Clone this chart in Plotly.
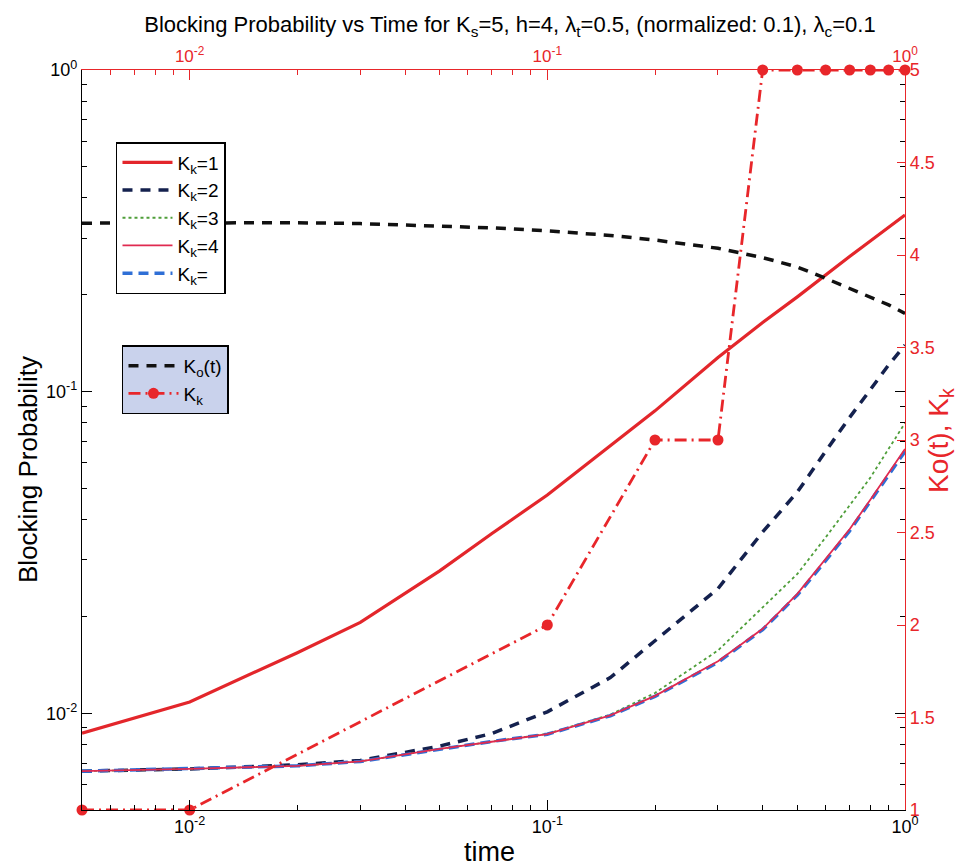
import plotly.graph_objects as go

# Common time grid for the blocking-probability curves
time = [0.005, 0.01, 0.02, 0.03, 0.05, 0.07, 0.1, 0.15, 0.2, 0.3,
        0.4, 0.5, 0.6, 0.7, 0.8, 0.9, 1.0]

pb_k1 = [0.00867, 0.01084, 0.01542, 0.01915, 0.0277, 0.0362, 0.0477, 0.0680,
         0.0871, 0.1277, 0.164, 0.197, 0.231, 0.263, 0.294, 0.325, 0.354]
pb_k2 = [0.0066, 0.00671, 0.00691, 0.00713, 0.0079, 0.00865, 0.0101, 0.0129,
         0.0168, 0.0244, 0.0366, 0.0487, 0.0652, 0.0831, 0.1014, 0.121, 0.1396]
pb_k3 = [0.0066, 0.00671, 0.00686, 0.00708, 0.00774, 0.00817, 0.00863, 0.0099,
         0.01156, 0.01567, 0.0214, 0.0271, 0.0352, 0.0442, 0.054, 0.0664, 0.0798]
pb_k4 = [0.0066, 0.00671, 0.00686, 0.00708, 0.00774, 0.00817, 0.00861, 0.00984,
         0.01132, 0.0145, 0.0183, 0.0235, 0.0301, 0.0373, 0.0461, 0.0559, 0.0663]
pb_kx = [0.0066, 0.00671, 0.00686, 0.00708, 0.00774, 0.00817, 0.00860, 0.00982,
         0.01128, 0.0144, 0.0182, 0.0233, 0.0298, 0.0369, 0.0456, 0.0552, 0.0652]
ko_t = [0.334, 0.335, 0.335, 0.333, 0.327, 0.323, 0.316, 0.306, 0.296, 0.279,
        0.261, 0.244, 0.225, 0.209, 0.196, 0.186, 0.175]

# Chosen K_k over time (right axis)
kk_time = [0.005, 0.01, 0.1, 0.2, 0.3, 0.4, 0.5, 0.6, 0.7, 0.8, 0.9, 1.0]
kk_vals = [1, 1, 2, 3, 3, 5, 5, 5, 5, 5, 5, 5]

log_major = [0.01, 0.1, 1]
log_major_text = ["10<sup>-2</sup>", "10<sup>-1</sup>", "10<sup>0</sup>"]
x_minor = [0.006, 0.007, 0.008, 0.009] + [k / 100 for k in range(2, 10)] + [k / 10 for k in range(2, 10)]
y_minor = [0.006, 0.007, 0.008, 0.009] + [k / 100 for k in range(2, 10)] + [k / 10 for k in range(2, 10)]
right_ticks = [1, 1.5, 2, 2.5, 3, 3.5, 4, 4.5, 5]
right_text = ["1", "1.5", "2", "2.5", "3", "3.5", "4", "4.5", "5"]

RED = "#e8262a"
FONT = "Liberation Sans, Arial, sans-serif"

fig = go.Figure()

fig.add_trace(go.Scatter(x=time, y=pb_k1, mode="lines", name="K<sub>k</sub>=1",
                         line=dict(color="#e3262b", width=3.2), legend="legend",
                         legendgroup="a", legendrank=1))
fig.add_trace(go.Scatter(x=time, y=pb_k2, mode="lines", name="K<sub>k</sub>=2",
                         line=dict(color="#14214e", width=3.5, dash="10px,8px"),
                         legend="legend", legendgroup="b", legendrank=2))
fig.add_trace(go.Scatter(x=time, y=pb_k3, mode="lines", name="K<sub>k</sub>=3",
                         line=dict(color="#4f9e3a", width=1.8, dash="dot"),
                         legend="legend", legendgroup="c", legendrank=3))
fig.add_trace(go.Scatter(x=time, y=pb_kx, mode="lines", name="K<sub>k</sub>=",
                         line=dict(color="#2f6fd6", width=3.5, dash="10px,6px"),
                         legend="legend", legendgroup="e", legendrank=5))
fig.add_trace(go.Scatter(x=time, y=pb_k4, mode="lines", name="K<sub>k</sub>=4",
                         line=dict(color="#e02a50", width=1.8),
                         legend="legend", legendgroup="d", legendrank=4))
fig.add_trace(go.Scatter(x=time, y=ko_t, mode="lines", name="K<sub>o</sub>(t)",
                         line=dict(color="#111111", width=3.5, dash="10px,8px"),
                         legend="legend2", legendgroup="f", legendrank=6))
fig.add_trace(go.Scatter(x=kk_time, y=kk_vals, mode="lines+markers", name="K<sub>k</sub>",
                         line=dict(color=RED, width=2.8, dash="12px,5px,2px,5px"),
                         marker=dict(color=RED, size=11, symbol="circle"),
                         xaxis="x2", yaxis="y2", cliponaxis=False,
                         legend="legend2", legendgroup="g", legendrank=7))

fig.update_layout(
    width=964, height=867,
    margin=dict(l=82, r=59, t=70, b=57),
    paper_bgcolor="white", plot_bgcolor="white",
    font=dict(family=FONT, size=18, color="black"),
    showlegend=True,
    title=dict(text="Blocking Probability vs Time for K<sub>s</sub>=5, h=4, λ<sub>t</sub>=0.5, "
                    "(normalized: 0.1), λ<sub>c</sub>=0.1",
               x=0.529, xanchor="center", y=0.972, yanchor="middle",
               font=dict(family=FONT, size=22, color="black")),
    xaxis=dict(type="log", range=[-2.30103, 0], showgrid=False, zeroline=False,
               showline=True, linecolor="black", linewidth=1.3,
               ticks="inside", ticklen=10, tickcolor="black",
               tickvals=log_major, ticktext=log_major_text,
               tickfont=dict(size=18, color="black"),
               minor=dict(tickvals=x_minor, ticks="inside", ticklen=5, tickcolor="black")),
    yaxis=dict(type="log", range=[-2.30103, 0], showgrid=False, zeroline=False,
               showline=True, linecolor="black", linewidth=1.3, mirror="ticks",
               ticks="inside", ticklen=10, tickcolor="black",
               tickvals=log_major, ticktext=log_major_text,
               tickfont=dict(size=18, color="black"),
               minor=dict(tickvals=y_minor, ticks="inside", ticklen=5, tickcolor="black")),
    xaxis2=dict(type="log", range=[-2.30103, 0], overlaying="x", side="top",
                showgrid=False, zeroline=False, showline=True, linecolor=RED, linewidth=1.3,
                ticks="inside", ticklen=10, tickcolor=RED,
                tickvals=log_major, ticktext=log_major_text,
                tickfont=dict(size=17, color=RED),
                minor=dict(tickvals=x_minor, ticks="inside", ticklen=5, tickcolor=RED)),
    yaxis2=dict(range=[1, 5], overlaying="y", side="right", anchor="x2",
                showgrid=False, zeroline=False, showline=True, linecolor=RED, linewidth=1.3,
                ticks="inside", ticklen=8, tickcolor=RED,
                tickvals=right_ticks, ticktext=right_text,
                tickfont=dict(size=18, color=RED)),
    legend=dict(x=0.0413, y=0.9027, xanchor="left", yanchor="top",
                bgcolor="white", bordercolor="black", borderwidth=1.5,
                font=dict(family=FONT, size=19, color="black"),
                traceorder="grouped", tracegroupgap=0, itemwidth=50),
    legend2=dict(x=0.0486, y=0.628, xanchor="left", yanchor="top",
                 bgcolor="#c9d2ec", bordercolor="black", borderwidth=1.5,
                 font=dict(family=FONT, size=19, color="black"),
                 traceorder="grouped", tracegroupgap=0, itemwidth=50),
    annotations=[
        dict(text="Blocking Probability", xref="paper", yref="paper",
             x=-0.0656, y=0.4595, textangle=-90, showarrow=False,
             xanchor="center", yanchor="middle",
             font=dict(family=FONT, size=26, color="black")),
        dict(text="time", xref="paper", yref="paper", x=0.4957, y=-0.0568,
             showarrow=False, xanchor="center", yanchor="middle",
             font=dict(family=FONT, size=27, color="black")),
        dict(text="Ko(t), K<sub>k</sub>", xref="paper", yref="paper",
             x=1.0425, y=0.5, textangle=-90, showarrow=False,
             xanchor="center", yanchor="middle",
             font=dict(family=FONT, size=28, color=RED)),
    ],
)

fig.write_html("out.html")
